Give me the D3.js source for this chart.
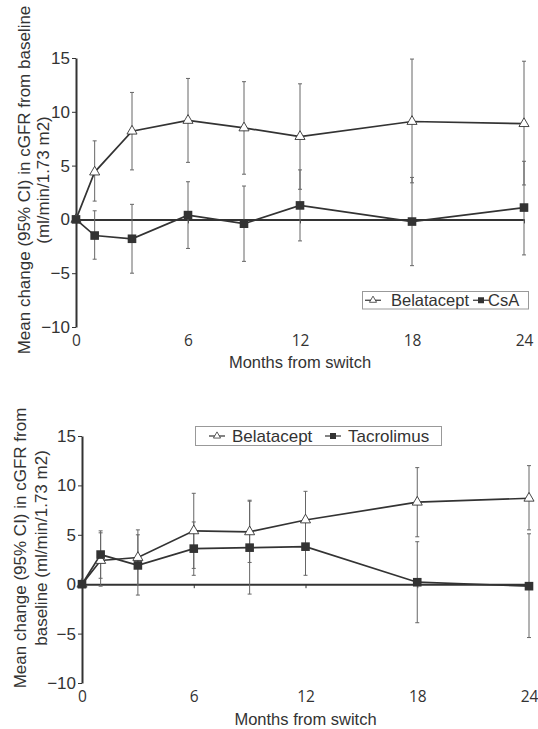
<!DOCTYPE html>
<html>
<head>
<meta charset="utf-8">
<script src="https://cdn.jsdelivr.net/npm/d3@7"></script>
<style>
  body { margin: 0; background: #fff; }
  svg { display: block; }
</style>
</head>
<body>
<script>
// months at which cGFR change was measured
const months = [0, 1, 3, 6, 9, 12, 18, 24];
const xTicks = [0, 6, 12, 18, 24];
const yTicks = [-10, -5, 0, 5, 10, 15];

// panel A: belatacept vs CsA
const belaA = [0, 4.4, 8.2, 9.2, 8.5, 7.7, 9.1, 8.9];
const belaALow = [0, 1.7, 4.6, 5.3, 4.2, 2.8, 3.4, 3.2];
const belaAHigh = [0, 7.3, 11.8, 13.1, 12.8, 12.6, 14.9, 14.7];
const csa = [0, -1.5, -1.8, 0.4, -0.4, 1.3, -0.2, 1.1];
const csaLow = [0, -3.7, -5.0, -2.7, -3.9, -2.0, -4.3, -3.3];
const csaHigh = [0, 0.8, 1.4, 3.5, 3.1, 4.6, 3.9, 5.4];

// panel B: belatacept vs tacrolimus
const belaB = [0, 2.4, 2.7, 5.4, 5.3, 6.5, 8.3, 8.7];
const belaBLow = [0, -0.2, -0.1, 1.6, 2.2, 3.6, 4.8, 5.5];
const belaBHigh = [0, 5.2, 5.5, 9.2, 8.4, 9.4, 11.8, 12.0];
const tac = [0, 3.0, 1.9, 3.6, 3.7, 3.8, 0.2, -0.2];
const tacLow = [0, 0.6, -1.1, 0.9, -1.0, 0.9, -3.9, -5.4];
const tacHigh = [0, 5.4, 5.0, 6.3, 8.5, 6.7, 4.3, 5.1];

const ink = "#333";
const barInk = "#666";
const font = "'Liberation Sans', Arial, sans-serif";

const svg = d3.select("body").append("svg")
  .attr("width", 538)
  .attr("height", 729);

function series(values, low, high, kind) {
  return { kind, points: months.map((m, i) => ({ m, v: values[i], lo: low[i], hi: high[i] })) };
}

function marker(sel, kind) {
  if (kind === "tri") {
    sel.append("path")
      .attr("d", d3.symbol(d3.symbolTriangle, 44)())
      .attr("fill", "#fff")
      .attr("stroke", ink)
      .attr("stroke-width", 0.9);
  } else {
    sel.append("rect")
      .attr("x", -4.3).attr("y", -4.3)
      .attr("width", 8.6).attr("height", 8.6)
      .attr("fill", ink);
  }
}

function panel({ x0, x1, yTop, yBottom, labelLines, labelX, labelY, labelSize, seriesList, legend, axisTitleY }) {
  const x = d3.scaleLinear([0, 24], [x0, x1]);
  const y = d3.scaleLinear([-10, 15], [yBottom, yTop]);
  const g = svg.append("g");

  // y axis
  g.append("g")
    .attr("transform", `translate(${x0},0)`)
    .call(d3.axisLeft(y).tickValues(yTicks).tickSize(4).tickSizeOuter(0).tickPadding(2))
    .call(a => a.select(".domain").attr("stroke", ink).attr("stroke-width", 2))
    .call(a => a.selectAll(".tick line").attr("stroke", ink))
    .call(a => a.selectAll(".tick text").attr("fill", ink).attr("font-size", 17).attr("font-family", font));

  // ticks on the zero line
  g.append("g")
    .attr("transform", `translate(0,${y(0)})`)
    .call(d3.axisBottom(x).tickValues(xTicks).tickSize(4).tickSizeOuter(0).tickFormat(""))
    .call(a => a.select(".domain").attr("stroke", ink).attr("stroke-width", 2))
    .call(a => a.selectAll(".tick line").attr("stroke", ink));

  // month labels below the plot
  g.append("g")
    .attr("transform", `translate(0,${yBottom})`)
    .call(d3.axisBottom(x).tickValues(xTicks).tickSize(0).tickPadding(8))
    .call(a => a.select(".domain").remove())
    .call(a => a.selectAll(".tick text").attr("fill", ink).attr("font-size", 15.5).attr("font-family", "'Open Sans', sans-serif"));

  g.append("text")
    .attr("x", (x0 + x1) / 2)
    .attr("y", axisTitleY)
    .attr("text-anchor", "middle")
    .attr("font-family", font)
    .attr("font-size", 16.5)
    .attr("fill", ink)
    .text("Months from switch");

  labelLines.forEach((t, i) => {
    g.append("text")
      .attr("transform", `translate(${labelX[i]},${labelY}) rotate(-90)`)
      .attr("text-anchor", "middle")
      .attr("font-family", font)
      .attr("font-size", labelSize)
      .attr("fill", ink)
      .text(t);
  });

  // error bars
  seriesList.forEach(s => {
    const bars = g.append("g").attr("stroke", barInk).attr("stroke-width", 1);
    s.points.filter(p => p.m > 0).forEach(p => {
      bars.append("line").attr("x1", x(p.m)).attr("x2", x(p.m)).attr("y1", y(p.lo)).attr("y2", y(p.hi));
      [p.lo, p.hi].forEach(v => bars.append("line")
        .attr("x1", x(p.m) - 2).attr("x2", x(p.m) + 2)
        .attr("y1", y(v)).attr("y2", y(v)));
    });
  });

  // lines and markers
  const line = d3.line().x(p => x(p.m)).y(p => y(p.v));
  seriesList.forEach(s => {
    g.append("path")
      .attr("d", line(s.points))
      .attr("fill", "none")
      .attr("stroke", ink)
      .attr("stroke-width", 1.7);
  });
  seriesList.forEach(s => {
    g.append("g").selectAll("g")
      .data(s.points)
      .join("g")
      .attr("transform", p => `translate(${x(p.m)},${y(p.v)})`)
      .each(function () { marker(d3.select(this), s.kind); });
  });

  // legend
  const lg = g.append("g");
  lg.append("rect")
    .attr("x", legend.box[0]).attr("y", legend.box[1])
    .attr("width", legend.box[2]).attr("height", legend.box[3])
    .attr("fill", "#fff").attr("stroke", "#999");
  legend.items.forEach(it => {
    const cy = legend.box[1] + legend.box[3] / 2;
    lg.append("line")
      .attr("x1", it.mx - 8).attr("x2", it.mx + 8)
      .attr("y1", cy).attr("y2", cy)
      .attr("stroke", ink).attr("stroke-width", 1.2);
    const m = lg.append("g").attr("transform", `translate(${it.mx},${cy})`);
    if (it.kind === "tri") {
      m.append("path").attr("d", d3.symbol(d3.symbolTriangle, 22)())
        .attr("fill", "#fff").attr("stroke", ink).attr("stroke-width", 0.8);
    } else {
      m.append("rect").attr("x", -3).attr("y", -3).attr("width", 6).attr("height", 6).attr("fill", ink);
    }
    lg.append("text")
      .attr("x", it.tx).attr("y", cy + 5.6)
      .attr("font-family", font).attr("font-size", legend.size)
      .attr("fill", ink)
      .text(it.label);
  });
}

panel({
  x0: 76, x1: 524, yTop: 58, yBottom: 327,
  labelLines: ["Mean change (95% CI) in cGFR from baseline", "(ml/min/1.73 m2)"],
  labelX: [30, 49], labelY: 180, labelSize: 17,
  seriesList: [series(belaA, belaALow, belaAHigh, "tri"), series(csa, csaLow, csaHigh, "sq")],
  legend: {
    box: [362.5, 291.5, 166, 17.5],
    size: 16.5,
    items: [
      { kind: "tri", mx: 373, tx: 391, label: "Belatacept" },
      { kind: "sq", mx: 481, tx: 488, label: "CsA" }
    ]
  },
  axisTitleY: 368
});

panel({
  x0: 82, x1: 529, yTop: 436, yBottom: 683,
  labelLines: ["Mean change (95% CI) in cGFR from", "baseline (ml/min/1.73 m2)"],
  labelX: [26, 47], labelY: 548, labelSize: 17,
  seriesList: [series(belaB, belaBLow, belaBHigh, "tri"), series(tac, tacLow, tacHigh, "sq")],
  legend: {
    box: [195.5, 426.5, 246, 19],
    size: 17,
    items: [
      { kind: "tri", mx: 217, tx: 232, label: "Belatacept" },
      { kind: "sq", mx: 333, tx: 348, label: "Tacrolimus" }
    ]
  },
  axisTitleY: 725
});
</script>
</body>
</html>
